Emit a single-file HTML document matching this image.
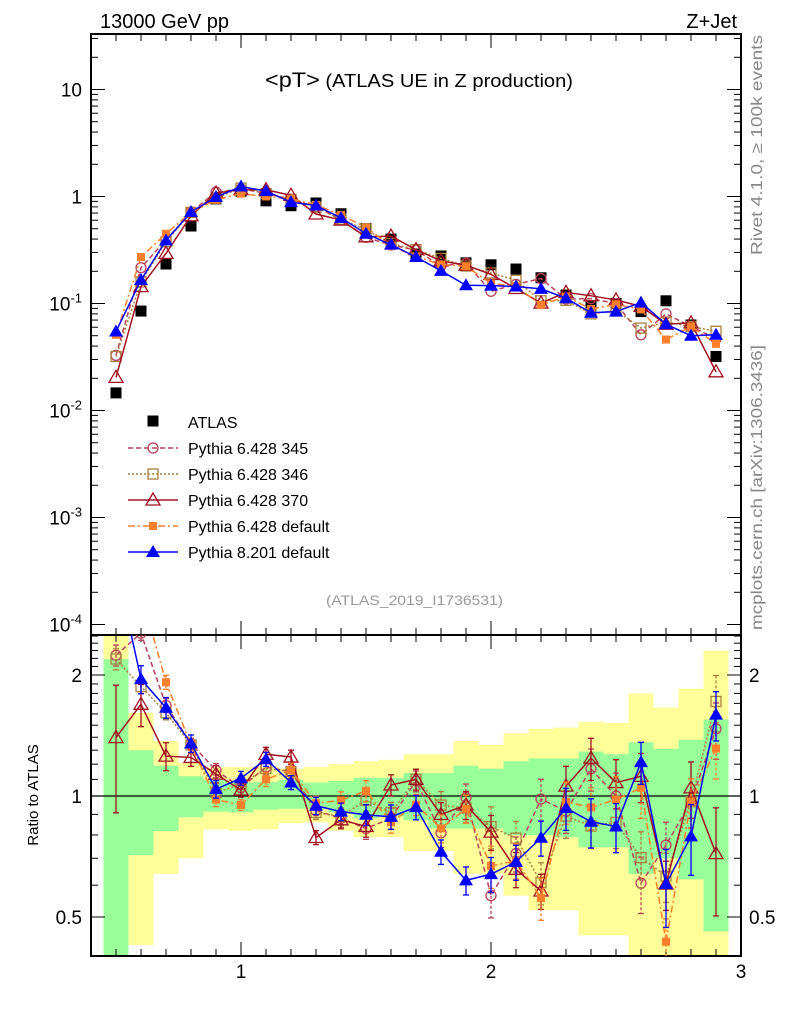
<!DOCTYPE html>
<html><head><meta charset="utf-8"><style>
html,body{margin:0;padding:0;background:#fff;}
svg{display:block;font-family:"Liberation Sans",Arial,sans-serif;}
</style></head><body>
<svg id="chart" width="786" height="1024" viewBox="0 0 786 1024" xmlns="http://www.w3.org/2000/svg">
<defs>
<clipPath id="clipMain"><rect x="91" y="34" width="650" height="601"/></clipPath>
<clipPath id="clipRatio"><rect x="91" y="635" width="650" height="321"/></clipPath>
</defs>
<g id="bands" clip-path="url(#clipRatio)"></g>
<g id="grid"></g>
<g id="mainMarks" clip-path="url(#clipMain)"></g>
<g id="ratioMarks" clip-path="url(#clipRatio)"></g>
<g id="legend"></g>
<text x="100" y="28" font-size="20">13000 GeV pp</text>
<text x="737" y="28" font-size="20" text-anchor="end">Z+Jet</text>
<text x="265" y="87" font-size="18" textLength="308" lengthAdjust="spacingAndGlyphs"><tspan font-size="21">&lt;pT&gt;</tspan> (ATLAS UE in Z production)</text>
<text x="326" y="605" font-size="14" fill="#999" textLength="177" lengthAdjust="spacingAndGlyphs">(ATLAS_2019_I1736531)</text>
<text transform="translate(762,255) rotate(-90)" font-size="16" fill="#888" textLength="220" lengthAdjust="spacingAndGlyphs">Rivet 4.1.0, ≥ 100k events</text>
<text transform="translate(762,630) rotate(-90)" font-size="16" fill="#888" textLength="285" lengthAdjust="spacingAndGlyphs">mcplots.cern.ch [arXiv:1306.3436]</text>
<text transform="translate(38,795) rotate(-90)" font-size="15" text-anchor="middle">Ratio to ATLAS</text>
</svg>
<script>
const xs=[0.5,0.6,0.7,0.8,0.9,1.0,1.1,1.2,1.3,1.4,1.5,1.6,1.7,1.8,1.9,2.0,2.1,2.2,2.3,2.4,2.5,2.6,2.7,2.8,2.9];
const atlas=[0.0146,0.085,0.234,0.53,0.95,1.12,0.91,0.82,0.87,0.69,0.5,0.4,0.29,0.278,0.24,0.23,0.21,0.174,0.12,0.095,0.1,0.084,0.106,0.063,0.032];
const p345=[0.0327,0.216,0.393,0.716,1.10,1.176,1.074,0.943,0.80,0.607,0.415,0.352,0.316,0.225,0.238,0.13,0.151,0.171,0.110,0.111,0.10,0.051,0.080,0.061,0.047];
const p346=[0.032,0.159,0.377,0.710,0.969,1.198,1.065,0.943,0.792,0.614,0.488,0.364,0.319,0.264,0.224,0.193,0.165,0.106,0.107,0.080,0.086,0.059,0.067,0.061,0.055];
const p370=[0.0204,0.1437,0.294,0.661,1.077,1.159,1.156,1.025,0.686,0.602,0.42,0.426,0.319,0.25,0.228,0.187,0.138,0.101,0.127,0.118,0.108,0.094,0.064,0.066,0.023];
const pdef=[0.051,0.272,0.449,0.710,0.931,1.064,1.001,0.951,0.835,0.673,0.515,0.344,0.276,0.231,0.223,0.154,0.145,0.097,0.116,0.089,0.098,0.088,0.046,0.061,0.042];
const p8=[0.0547,0.166,0.388,0.716,0.988,1.24,1.123,0.886,0.823,0.631,0.449,0.355,0.272,0.202,0.148,0.147,0.144,0.137,0.112,0.082,0.084,0.102,0.064,0.050,0.051];
const err345=[0.06,0.04,0.04,0.03,0.04,0.03,0.04,0.04,0.04,0.05,0.06,0.06,0.06,0.08,0.08,0.12,0.1,0.12,0.12,0.12,0.14,0.16,0.14,0.14,0.16];
const err346=err345;
const err370=[0.35,0.12,0.08,0.05,0.05,0.04,0.04,0.04,0.04,0.05,0.06,0.06,0.06,0.07,0.08,0.1,0.1,0.1,0.12,0.12,0.14,0.14,0.14,0.16,0.3];
const errDef=err345;
const err8=[0.08,0.08,0.06,0.05,0.05,0.04,0.04,0.04,0.05,0.05,0.06,0.07,0.07,0.07,0.08,0.1,0.1,0.1,0.12,0.14,0.14,0.12,0.22,0.2,0.14];
const binLo=[0.45,0.55,0.65,0.75,0.85,0.95,1.05,1.15,1.25,1.35,1.45,1.55,1.65,1.75,1.85,1.95,2.05,2.15,2.25,2.35,2.45,2.55,2.65,2.75,2.85];
const yelHi=[3,1.61,1.37,1.21,1.18,1.18,1.185,1.17,1.18,1.2,1.22,1.23,1.27,1.27,1.37,1.34,1.43,1.47,1.48,1.53,1.52,1.80,1.66,1.85,2.3];
const grnHi=[2.19,1.30,1.19,1.12,1.096,1.08,1.085,1.096,1.08,1.09,1.11,1.11,1.14,1.14,1.19,1.17,1.22,1.24,1.24,1.29,1.27,1.36,1.31,1.38,1.55];
const grnLo=[0.3,0.713,0.818,0.885,0.914,0.91,0.925,0.93,0.93,0.91,0.88,0.89,0.87,0.83,0.83,0.83,0.80,0.80,0.79,0.745,0.745,0.64,0.70,0.62,0.46];
const yelLo=[0.3,0.426,0.64,0.70,0.826,0.82,0.826,0.855,0.86,0.82,0.79,0.79,0.73,0.73,0.64,0.64,0.565,0.52,0.52,0.45,0.45,0.3,0.3,0.3,0.3];
const mainTicks=["10","1","10^-1","10^-2","10^-3","10^-4"];
const ratioTicks=[2,1,0.5];
const xTicks=[1,2,3];

const NS="http://www.w3.org/2000/svg";
const L=91,R=741,MT=34,MB=635,RT=635,RB=956;
const X=v=>L+(v-0.4)*(R-L)/2.6;
const Y=v=>196.5-107*Math.log10(v);
const YR=v=>796-402*Math.log10(v);
function mk(tag,attrs,parent){const e=document.createElementNS(NS,tag);for(const k in attrs)e.setAttribute(k,attrs[k]);parent.appendChild(e);return e;}
const grid=document.getElementById('grid');
const bands=document.getElementById('bands');
for(let i=0;i<binLo.length;i++){
  const x0=X(binLo[i]),x1=X(binLo[i]+0.1);
  const y=mk('rect',{x:x0,y:YR(yelHi[i]),width:x1-x0,height:YR(yelLo[i])-YR(yelHi[i]),fill:'#ffff99'},bands);
  
  
  const g=mk('rect',{x:x0,y:YR(grnHi[i]),width:x1-x0,height:YR(grnLo[i])-YR(grnHi[i]),fill:'#99ff99'},bands);
  
  
}
const f1=mk('rect',{x:L,y:MT,width:R-L,height:MB-MT,fill:'none',stroke:'#000','stroke-width':2},grid);


const f2=mk('rect',{x:L,y:RT,width:R-L,height:RB-RT,fill:'none',stroke:'#000','stroke-width':2},grid);


const one=mk('line',{x1:L,x2:R,y1:YR(1),y2:YR(1),stroke:'#000','stroke-width':1.2},grid);


for(let k=4;k<=30;k++){
  const v=k/10,x=X(v),maj=(k%10==0),len=maj?14:7;
  for(const [t,dir] of [[MT,1],[MB,-1],[RT,1],[RB,-1]]){
    mk('line',{x1:x,x2:x,y1:t,y2:t+dir*len,stroke:'#000','stroke-width':1},grid);
  }
}
xTicks.forEach(v=>{const t=mk('text',{x:X(v),y:978,'font-size':19,'text-anchor':'middle'},grid);t.textContent=v;

});
for(let d=-4;d<=1;d++){
  for(let m=1;m<=9;m++){
    const v=m*Math.pow(10,d),y=Y(v);if(y<MT||y>MB)continue;
    const len=m==1?14:7;
    mk('line',{x1:L,x2:L+len,y1:y,y2:y,stroke:'#000'},grid);
    mk('line',{x1:R,x2:R-len,y1:y,y2:y,stroke:'#000'},grid);
  }
}
mainTicks.forEach((s,i)=>{const y=Y(Math.pow(10,1-i));const t=mk('text',{x:82,y:y+7,'font-size':19,'text-anchor':'end'},grid);
  if(s.includes('^')){const p=s.split('^');t.textContent=p[0];const sp=mk('tspan',{dy:-8,'font-size':13},t);sp.textContent=p[1];}
  else t.textContent=s;
  
  });
[0.4,0.5,0.6,0.7,0.8,0.9,1,1.1,1.2,1.3,1.4,1.5,1.6,1.7,1.8,1.9,2,2.1,2.2,2.3,2.4,2.5].forEach(v=>{
  const y=YR(v);if(y<RT||y>RB)return;const len=(v==0.5||v==1||v==2)?14:7;
  mk('line',{x1:L,x2:L+len,y1:y,y2:y,stroke:'#000'},grid);
  mk('line',{x1:R,x2:R-len,y1:y,y2:y,stroke:'#000'},grid);
});
ratioTicks.forEach(v=>{
  const a=mk('text',{x:82,y:YR(v)+7,'font-size':19,'text-anchor':'end'},grid);a.textContent=v;
  
  
  const b=mk('text',{x:749,y:YR(v)+7,'font-size':19},grid);b.textContent=v;
  
  
});
function marker(g,type,x,y,c){
  let e;
  if(type=='circle')e=mk('circle',{cx:x,cy:y,r:5,fill:'none',stroke:c,'stroke-width':1.3},g);
  else if(type=='osq')e=mk('rect',{x:x-5,y:y-5,width:10,height:10,fill:'none',stroke:c,'stroke-width':1.3},g);
  else if(type=='sq')e=mk('rect',{x:x-4,y:y-4,width:8,height:8,fill:c},g);
  else if(type=='bsq')e=mk('rect',{x:x-5.5,y:y-5.5,width:11,height:11,fill:c},g);
  else if(type=='otri')e=mk('polygon',{points:`${x},${y-7} ${x-7},${y+5} ${x+7},${y+5}`,fill:'none',stroke:c,'stroke-width':1.3},g);
  else e=mk('polygon',{points:`${x},${y-7} ${x-7},${y+5} ${x+7},${y+5}`,fill:c},g);
  return e;
}
const series=[
 {name:'Pythia 6.428 345',key:'p345',vals:p345,err:err345,c:'#b84058',dash:'5,3',m:'circle'},
 {name:'Pythia 6.428 346',key:'p346',vals:p346,err:err346,c:'#a8803c',dash:'2,2',m:'osq'},
 {name:'Pythia 6.428 370',key:'p370',vals:p370,err:err370,c:'#a01020',dash:'',m:'otri'},
 {name:'Pythia 6.428 default',key:'pdef',vals:pdef,err:errDef,c:'#ff7f2a',dash:'7,3,2,3',m:'sq'},
 {name:'Pythia 8.201 default',key:'p8',vals:p8,err:err8,c:'#0000ff',dash:'',m:'tri'}
];
const mainG=document.getElementById('mainMarks'),ratG=document.getElementById('ratioMarks');
xs.forEach((x,i)=>{const e=marker(mainG,'bsq',X(x),Y(atlas[i]),'#000');
 
 });
series.forEach(s=>{
  const gm=mk('g',{},mainG);
  
  
  const gr=mk('g',{},ratG);
  
  
  const pm=xs.map((x,i)=>X(x)+','+Y(s.vals[i])).join(' ');
  mk('polyline',{points:pm,fill:'none',stroke:s.c,'stroke-width':1.5,'stroke-dasharray':s.dash},gm);
  const pr=xs.map((x,i)=>X(x)+','+YR(s.vals[i]/atlas[i])).join(' ');
  mk('polyline',{points:pr,fill:'none',stroke:s.c,'stroke-width':1.5,'stroke-dasharray':s.dash},gr);
  xs.forEach((x,i)=>{
    const r=s.vals[i]/atlas[i],e=s.err[i],px=X(x);
    const y1=YR(r*(1+e)),y2=YR(r*(1-e));
    mk('line',{x1:px,x2:px,y1:y1,y2:y2,stroke:s.c,'stroke-width':1.3,'stroke-dasharray':s.dash?'3,2':''},gr);
    mk('line',{x1:px-3,x2:px+3,y1:y1,y2:y1,stroke:s.c,'stroke-width':1.3},gr);
    mk('line',{x1:px-3,x2:px+3,y1:y2,y2:y2,stroke:s.c,'stroke-width':1.3},gr);
    const a=marker(gm,s.m,px,Y(s.vals[i]),s.c);
    
    
    const b=marker(gr,s.m,px,YR(r),s.c);
    
    
  });
});
const lg=document.getElementById('legend');
const la=marker(lg,'bsq',153,421,'#000');


const lt=mk('text',{x:188,y:428,'font-size':16},lg);lt.textContent='ATLAS';


series.forEach((s,i)=>{
  const y=448+i*26;
  mk('line',{x1:128,x2:178,y1:y,y2:y,stroke:s.c,'stroke-width':1.5,'stroke-dasharray':s.dash},lg);
  marker(lg,s.m,153,y,s.c);
  const t=mk('text',{x:188,y:y+6,'font-size':16},lg);t.textContent=s.name;
  
  
});
</script>
</body></html>
